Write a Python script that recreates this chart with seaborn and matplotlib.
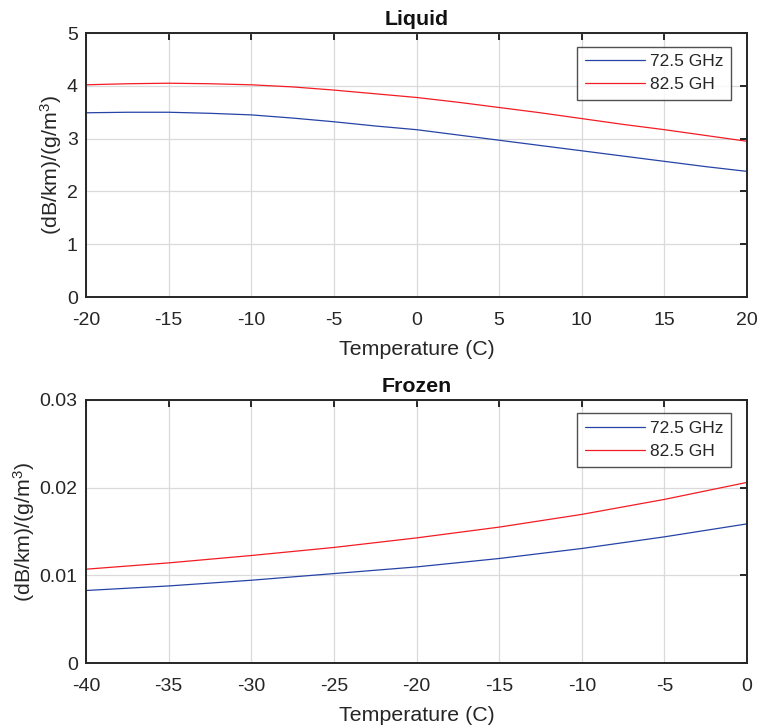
import numpy as np
import pandas as pd
import matplotlib
matplotlib.use("Agg")
import matplotlib.pyplot as plt
import seaborn as sns

# ---- data ----
liquid_temp = [-20, -17.5, -15, -12.5, -10, -7.5, -5, -2.5, 0, 2.5, 5, 7.5, 10, 12.5, 15, 17.5, 20]
liquid_72 = [3.49, 3.50, 3.50, 3.48, 3.45, 3.39, 3.32, 3.24, 3.17, 3.07, 2.97, 2.87, 2.77, 2.67, 2.57, 2.47, 2.38]
liquid_82 = [4.02, 4.04, 4.05, 4.04, 4.02, 3.98, 3.92, 3.85, 3.78, 3.69, 3.59, 3.49, 3.38, 3.27, 3.17, 3.06, 2.95]

frozen_temp = [-40, -35, -30, -25, -20, -15, -10, -5, 0]
frozen_72 = [0.00827, 0.00879, 0.00944, 0.0102, 0.01096, 0.01192, 0.01306, 0.01439, 0.01587]
frozen_82 = [0.0107, 0.01142, 0.01226, 0.01318, 0.01427, 0.0155, 0.01695, 0.01866, 0.0206]

series_labels = ["72.5 GHz", "82.5 GH"]
titles = ["Liquid", "Frozen"]
xlabel = "Temperature (C)"
ylabel = "(dB/km)/(g/m$^3$)"

liquid_xticks = [-20, -15, -10, -5, 0, 5, 10, 15, 20]
liquid_yticks = [0, 1, 2, 3, 4, 5]
frozen_xticks = [-40, -35, -30, -25, -20, -15, -10, -5, 0]
frozen_yticks = [0, 0.01, 0.02, 0.03]
frozen_yticklabels = ["0", "0.01", "0.02", "0.03"]

colors = {"72.5 GHz": "#2643a6", "82.5 GH": "#f41c24"}


def long_df(temp, a, b):
    return pd.DataFrame({
        "T": list(temp) * 2,
        "val": list(a) + list(b),
        "freq": [series_labels[0]] * len(temp) + [series_labels[1]] * len(temp),
    })


sns.set_theme(style="white")
plt.rcParams["font.family"] = ["Liberation Sans", "DejaVu Sans"]
plt.rcParams["mathtext.fontset"] = "custom"
plt.rcParams["mathtext.rm"] = "Liberation Sans"
plt.rcParams["mathtext.it"] = "Liberation Sans"

fig = plt.figure(figsize=(7.59, 7.25), dpi=100)
ax1 = fig.add_axes([0.1133, 0.5903, 0.8709, 0.3641])
ax2 = fig.add_axes([0.1133, 0.0855, 0.8709, 0.3628])

panels = [
    (ax1, long_df(liquid_temp, liquid_72, liquid_82), liquid_xticks, liquid_yticks,
     [str(v) for v in liquid_yticks], (-20, 20), (0, 5), titles[0]),
    (ax2, long_df(frozen_temp, frozen_72, frozen_82), frozen_xticks, frozen_yticks,
     frozen_yticklabels, (-40, 0), (0, 0.03), titles[1]),
]

textc = "#262626"
for ax, df, xt, yt, ytl, xl, yl, title in panels:
    sns.lineplot(data=df, x="T", y="val", hue="freq", palette=colors, ax=ax,
                 linewidth=0.9, legend=True)
    ax.set_xlim(*xl)
    ax.set_ylim(*yl)
    ax.set_xticks(xt)
    ax.set_xticklabels([str(v) for v in xt])
    ax.set_yticks(yt)
    ax.set_yticklabels(ytl)
    ax.grid(True, color="#dadada", linewidth=0.9)
    ax.set_axisbelow(True)
    for s in ax.spines.values():
        s.set_color("#262626")
        s.set_linewidth(1.4)
        s.set_visible(True)
    ax.tick_params(direction="in", length=5, width=1.4, colors="#262626",
                   labelsize=14, top=True, right=True, labelcolor=textc)
    ax.tick_params(axis="x", pad=11)
    ax.tick_params(axis="y", pad=6)
    ax.set_xlabel(xlabel, fontsize=15.4, color=textc, labelpad=8)
    ax.set_ylabel(ylabel, fontsize=15.4, color=textc, labelpad=2)
    ax.set_title(title, fontsize=15.4, fontweight="bold", color="#111111", pad=6)
    leg = ax.legend(loc="upper right", bbox_to_anchor=(0.976, 0.949), fontsize=12.5,
                    frameon=True, fancybox=False, edgecolor="#262626",
                    handlelength=3.45, handletextpad=0.29, borderpad=0.45,
                    labelspacing=0.45, borderaxespad=0.0)
    leg.get_frame().set_linewidth(1.0)
    for t in leg.get_texts():
        t.set_color(textc)

fig.savefig("out.png", dpi=100)
